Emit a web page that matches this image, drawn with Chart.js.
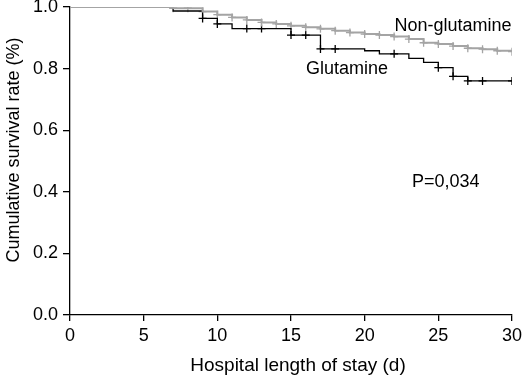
<!DOCTYPE html>
<html>
<head>
<meta charset="utf-8">
<script src="https://cdn.jsdelivr.net/npm/chart.js@4"></script>
<style>
  html, body { margin: 0; padding: 0; background: #fff; }
  #wrap { width: 524px; height: 375px; position: relative; }
</style>
</head>
<body>
<div id="wrap"><canvas id="km"></canvas></div>
<script>
// Kaplan-Meier steps: time (days) and survival after the drop
const gluTimes = [0, 7, 9, 10, 11, 15, 17, 20, 21, 23, 24, 25, 26, 27, 30];
const gluSurv = [1.0, 0.987, 0.963, 0.945, 0.930, 0.909, 0.864, 0.858, 0.848, 0.833, 0.820, 0.803, 0.775, 0.760, 0.760];
const gluCensored = [9, 10, 12, 13, 15, 16, 17, 18, 22, 25, 26, 27, 28, 30];

const nonTimes = [0, 7, 9, 10, 11, 12, 13, 14, 15, 16, 17, 18, 19, 20, 21, 22, 23, 24, 25, 26, 27, 28, 29, 30];
const nonSurv = [1.0, 0.996, 0.985, 0.975, 0.966, 0.958, 0.950, 0.945, 0.939, 0.934, 0.929, 0.923, 0.917, 0.912, 0.909, 0.904, 0.896, 0.884, 0.880, 0.873, 0.866, 0.863, 0.858, 0.855];
const nonCensored = [7, 8, 9, 10, 11, 12, 13, 14, 15, 16, 17, 18, 19, 20, 21, 22, 23, 24, 25, 26, 27, 28, 29, 30];

const xTicks = [0, 5, 10, 15, 20, 25, 30];
const yTicks = [0.0, 0.2, 0.4, 0.6, 0.8, 1.0];

const xTitle = 'Hospital length of stay (d)';
const yTitle = 'Cumulative survival rate (%)';

const BLACK = '#000000';
const GREY = '#a4a4a4';
const FONT = 'Liberation Sans, Arial, sans-serif';
const FS = 18;

function steps(times, surv) {
  return times.map((t, i) => ({ x: t, y: surv[i] }));
}

// survival value of a step curve at time t
function survAt(times, surv, t) {
  let v = surv[0];
  for (let i = 0; i < times.length; i++) {
    if (times[i] <= t) v = surv[i];
  }
  return v;
}

function censorPoints(times, surv, cens) {
  return cens.map(t => ({ x: t, y: survAt(times, surv, t) }));
}

const labelsPlugin = {
  id: 'kmLabels',
  afterDatasetsDraw(chart) {
    const { ctx, scales } = chart;
    const put = (txt, x, y) => ctx.fillText(txt, scales.x.getPixelForValue(x), scales.y.getPixelForValue(y));
    ctx.save();
    ctx.fillStyle = BLACK;
    ctx.font = FS + 'px ' + FONT;
    ctx.textAlign = 'center';
    ctx.textBaseline = 'alphabetic';
    put('Non-glutamine', 26.0, 0.923);
    put('Glutamine', 18.8, 0.782);
    put('P=0,034', 25.5, 0.417);

    // axis titles, placed a bit off-centre like the original
    ctx.font = '19px ' + FONT;
    ctx.fillText(xTitle, 298, 371);
    ctx.font = FS + 'px ' + FONT;
    ctx.translate(19, 150);
    ctx.rotate(-Math.PI / 2);
    ctx.fillText(yTitle, 0, 0);
    ctx.restore();
  }
};

new Chart(document.getElementById('km'), {
  type: 'line',
  data: {
    datasets: [
      {
        label: 'Non-glutamine',
        data: steps(nonTimes, nonSurv),
        borderColor: GREY,
        borderWidth: 2,
        stepped: 'before',
        pointRadius: 0,
        fill: false,
      },
      {
        label: 'Glutamine',
        data: steps(gluTimes, gluSurv),
        borderColor: BLACK,
        borderWidth: 1.3,
        stepped: 'before',
        pointRadius: 0,
        fill: false,
      },
      {
        type: 'scatter',
        label: 'Non-glutamine censored',
        data: censorPoints(nonTimes, nonSurv, nonCensored),
        pointStyle: 'cross',
        pointRadius: 4,
        borderColor: GREY,
        borderWidth: 1.3,
        showLine: false,
      },
      {
        type: 'scatter',
        label: 'Glutamine censored',
        data: censorPoints(gluTimes, gluSurv, gluCensored),
        pointStyle: 'cross',
        pointRadius: 4,
        borderColor: BLACK,
        borderWidth: 1.3,
        showLine: false,
      },
    ],
  },
  options: {
    responsive: true,
    maintainAspectRatio: false,
    animation: false,
    layout: { padding: { top: 7, right: 12, left: 0, bottom: 0 } },
    plugins: {
      legend: { display: false },
      tooltip: { enabled: false },
    },
    scales: {
      x: {
        type: 'linear',
        min: 0,
        max: 30,
        afterBuildTicks: s => { s.ticks = xTicks.map(v => ({ value: v })); },
        afterFit: s => { s.height = 60; s.paddingLeft = 0; s.paddingRight = 0; },
        border: { color: BLACK, width: 1.3 },
        grid: { drawOnChartArea: false, drawTicks: true, tickLength: 6, color: BLACK, lineWidth: 1.3 },
        ticks: { color: BLACK, font: { family: FONT, size: FS }, padding: 4, maxRotation: 0 },
      },
      y: {
        type: 'linear',
        min: 0,
        max: 1,
        afterBuildTicks: s => { s.ticks = yTicks.map(v => ({ value: v })); },
        afterFit: s => { s.width = 70; s.paddingTop = 0; s.paddingBottom = 0; },
        border: { color: BLACK, width: 1.3 },
        grid: { drawOnChartArea: false, drawTicks: true, tickLength: 7, color: BLACK, lineWidth: 1.3 },
        ticks: { color: BLACK, font: { family: FONT, size: FS }, padding: 5, callback: v => v.toFixed(1) },
      },
    },
  },
  plugins: [labelsPlugin],
});
</script>
</body>
</html>
